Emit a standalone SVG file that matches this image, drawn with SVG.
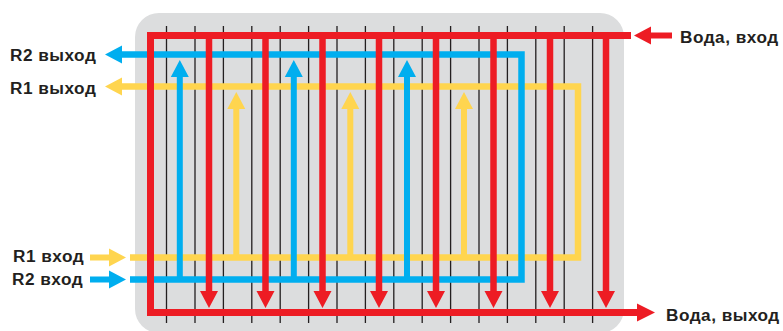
<svg xmlns="http://www.w3.org/2000/svg" width="783" height="331" viewBox="0 0 783 331">
<defs><style>
.t{font-family:"Liberation Sans",Arial,sans-serif;font-weight:700;font-size:17.200px;letter-spacing:.5px;fill:#231f20}
.g{stroke:#231f20;stroke-width:1.300;fill:none}
.r{stroke:#ed1c24;fill:none}.b{stroke:#00aeef;fill:none}.y{stroke:#ffd54f;fill:none}
.rf{fill:#ed1c24}.bf{fill:#00aeef}.yf{fill:#ffd54f}
</style></defs>
<rect id="panel" x="135" y="13" width="489" height="320" rx="24" fill="#dcddde"/>
<g id="plates" class="g">
<path d="M166.500 26V323M195 26V323M223.400 26V323M251.800 26V323M280.200 26V323M308.600 26V323M337 26V323M365.400 26V323M393.800 26V323M422.200 26V323M450.600 26V323M479 26V323M507.400 26V323M535.800 26V323M564.200 26V323M592.600 26V323"/>
</g>
<g id="connectors">
<g id="r1">
<path class="y" stroke-width="6.500" d="M121 86.500H578V257.500H130"/>
<path class="y" stroke-width="6" d="M236.300 108V257M350.300 108V257M464 108V257M90 257.500H110"/>
<path class="yf" d="M105 86.500L122 77.500V95.500ZM236.300 92L245.300 109H227.300ZM350.300 92L359.300 109H341.300ZM464 92L473 109H455ZM126 257.500L109 248.500V266.500Z"/>
</g>
<g id="r2">
<path class="b" stroke-width="6.500" d="M121 54.500H521.500V279.500H130"/>
<path class="b" stroke-width="6" d="M179.800 75V279M293.800 75V279M407 75V279M90 279.500H110"/>
<path class="bf" d="M105 54.500L122 45.500V63.500ZM179.800 60L188.800 77H170.800ZM293.800 60L302.800 77H284.800ZM407 60L416 77H398ZM126 279.500L109 270.500V288.500Z"/>
</g>
<g id="water">
<path class="r" stroke-width="7" d="M631 35.500H150.500V312.500H640"/>
<path class="r" stroke-width="6.500" d="M209 36V292M265.500 36V292M322.500 36V292M379 36V292M436 36V292M493.500 36V292M550 36V292M606 36V292"/>
<path class="r" stroke-width="6" d="M650 35.500H672"/>
<path class="rf" d="M209 308L218 291H200ZM265.500 308L274.500 291H256.500ZM322.500 308L331.500 291H313.500ZM379 308L388 291H370ZM436 308L445 291H427ZM493.500 308L502.500 291H484.500ZM550 308L559 291H541ZM606 308L615 291H597ZM634 35.500L651 26.500V44.500ZM655 312.500L637 303.500V321.500Z"/>
</g>
</g>
<g id="labels">
<text class="t" x="10" y="61">R2 выход</text>
<text class="t" x="10" y="94">R1 выход</text>
<text class="t" x="13" y="262">R1 вход</text>
<text class="t" x="12" y="285">R2 вход</text>
<text class="t" x="680" y="43">Вода, вход</text>
<text class="t" x="666" y="321">Вода, выход</text>
</g>
</svg>
